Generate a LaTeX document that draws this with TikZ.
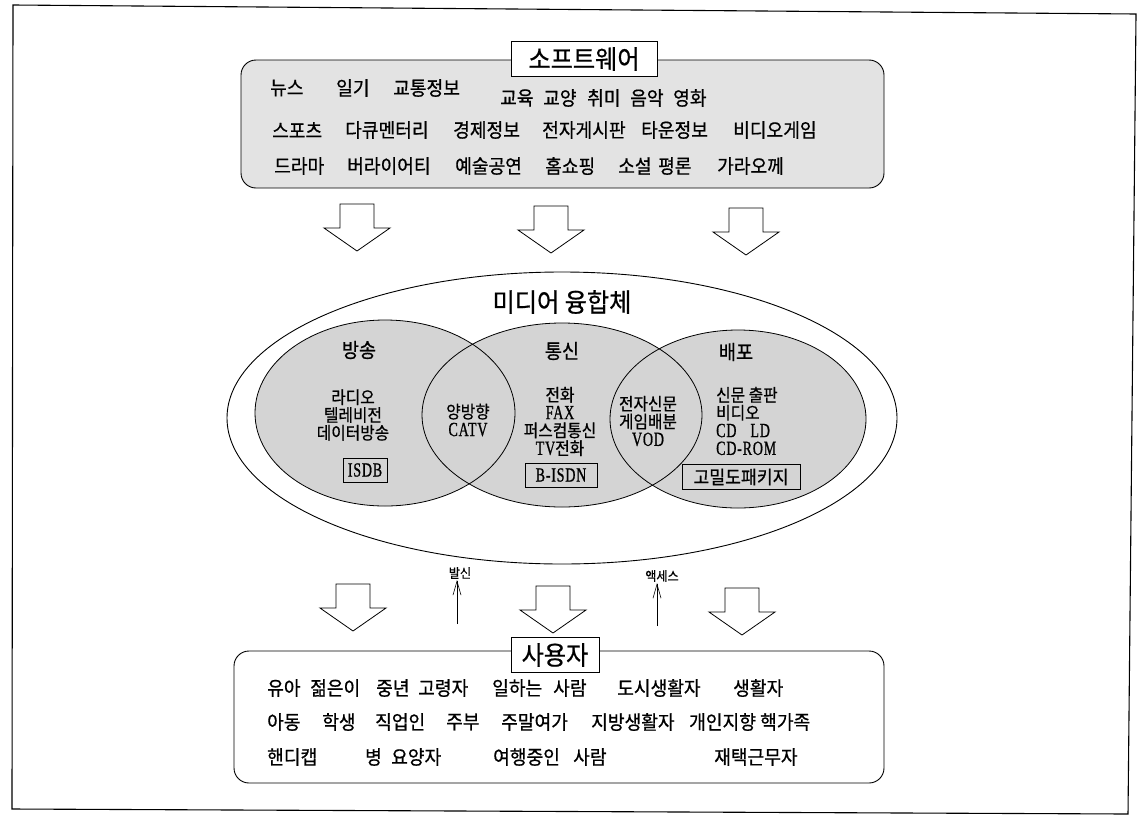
\documentclass[tikz,border=0pt]{standalone}
\usepackage{fontspec}
\setmainfont{Noto Sans CJK KR}
\newfontfamily\kr[FakeStretch=0.93,FakeBold=0.7]{Noto Sans CJK KR}
\newfontfamily\krn[FakeStretch=0.9,FakeBold=0.6]{Noto Sans CJK KR}
\newfontfamily\lat[FakeStretch=0.7,FakeBold=0.8,LetterSpace=4]{Liberation Serif}
\usetikzlibrary{shapes.geometric,arrows.meta}
\definecolor{cfill}{gray}{0.83}
\definecolor{bfill}{gray}{0.89}
\begin{document}
\begin{tikzpicture}[x=1pt,y=-1pt,
  frame/.style={line width=1.1pt},
  panel/.style={draw, line width=0.9pt, rounded corners=15pt, inner sep=0pt},
  titlebox/.style={draw, fill=white, line width=0.8pt, inner sep=0pt, minimum height=35pt, font=\kr\fontsize{26}{28}\selectfont},
  word/.style={anchor=west, inner sep=0pt, font=\kr\fontsize{19.5}{21}\selectfont},
  clabel/.style={inner sep=0pt, font=\kr\fontsize{20}{22}\selectfont},
  ctext/.style={inner sep=0pt, align=center, font=\krn\fontsize{17.5}{17.8}\selectfont},
  latbox/.style={draw, line width=0.7pt, inner sep=0pt, minimum height=24pt, font=\lat\fontsize{20}{20}\selectfont},
  kbox/.style={draw, line width=0.7pt, inner sep=0pt, minimum height=25pt, minimum width=118pt, font=\kr\fontsize{18.5}{20}\selectfont},
  small/.style={inner sep=1pt, font=\kr\fontsize{13}{15}\selectfont},
  uparr/.style={line width=0.6pt, -{Straight Barb[length=14pt,width=8pt]}},
  downarr/.pic={\draw[line width=0.8pt, fill=white] (-17,0) -- (17,0) -- (17,24) -- (33,24) -- (0,47) -- (-33,24) -- (-17,24) -- cycle;}
]
\useasboundingbox (0,0) rectangle (1142,822);
\fill[white] (0,0) rectangle (1142,822);
% outer frame
\draw[frame] (13,5) -- (1136,14) -- (1128,814) -- (12,809) -- cycle;

% ---------- software panel ----------
\node[panel, fill=bfill, minimum width=643pt, minimum height=128pt] (swbox) at (562.5,124) {};
\node[titlebox, minimum width=146pt] (swtitle) at (584,59) {소프트웨어};
\node[word] (s1) at (270,88) {뉴스};
\node[word] (s2) at (336,88) {일기};
\node[word] (s3) at (393,88) {교통정보};
\node[word] (s4) at (500,98) {교육};
\node[word] (s5) at (543,98) {교양};
\node[word] (s6) at (587,98) {취미};
\node[word] (s7) at (630,98) {음악};
\node[word] (s8) at (673,98) {영화};
\node[word] (s9) at (272,130) {스포츠};
\node[word] (s10) at (345,130) {다큐멘터리};
\node[word] (s11) at (453,130) {경제정보};
\node[word] (s12) at (542,130) {전자게시판};
\node[word] (s13) at (641,130) {타운정보};
\node[word] (s14) at (733,130) {비디오게임};
\node[word] (s15) at (274,166) {드라마};
\node[word] (s16) at (347,166) {버라이어티};
\node[word] (s17) at (455,166) {예술공연};
\node[word] (s18) at (545,166) {홈쇼핑};
\node[word] (s19) at (618,166) {소설};
\node[word] (s20) at (658,166) {평론};
\node[word] (s21) at (717,166) {가라오께};

% ---------- arrows software -> media ----------
\pic at (357,204) {downarr};
\pic at (551,206) {downarr};
\pic at (746,208) {downarr};

% ---------- media ellipse ----------
\node[ellipse, draw, fill=white, line width=0.9pt, minimum width=670pt, minimum height=292pt, inner sep=0pt] (media) at (562,418) {};
\node[inner sep=0pt, font=\kr\fontsize{26}{28}\selectfont] (mtitle) at (562,302) {미디어 융합체};
% circle fills
\node[ellipse, fill=cfill, minimum width=260pt, minimum height=186pt, inner sep=0pt] (cL) at (385,413) {};
\node[ellipse, fill=cfill, minimum width=280pt, minimum height=184pt, inner sep=0pt] (cM) at (562,415) {};
\node[ellipse, fill=cfill, minimum width=256pt, minimum height=178pt, inner sep=0pt] (cR) at (738,419) {};
% circle outlines
\node[ellipse, draw, line width=0.8pt, minimum width=260pt, minimum height=186pt, inner sep=0pt] (oL) at (cL) {};
\node[ellipse, draw, line width=0.8pt, minimum width=280pt, minimum height=184pt, inner sep=0pt] (oM) at (cM) {};
\node[ellipse, draw, line width=0.8pt, minimum width=256pt, minimum height=178pt, inner sep=0pt] (oR) at (cR) {};

% broadcasting
\node[clabel] (tbang) at (359,350) {방송};
\node[ctext] (bang1) at (353,415) {라디오\\텔레비전\\데이터방송};
\node[latbox, minimum width=44pt] (isdb) at (365,470) {ISDB};
% overlap L/M
\node[ctext] (yang) at (468,420) {양방향\\{\lat\fontsize{20}{17.8}\selectfont CATV}};
% communication
\node[clabel] (ttong) at (562,351) {통신};
\node[ctext] (tong1) at (560,421.5) {전화\\{\lat\fontsize{20}{17.8}\selectfont FAX}\\퍼스컴통신\\{\lat\fontsize{20}{17.8}\selectfont TV}전화};
\node[latbox, minimum width=72pt] (bisdn) at (561,475) {B-ISDN};
% overlap M/R
\node[ctext] (jeon) at (648,421) {전자신문\\게임배분\\{\lat\fontsize{20}{17.8}\selectfont VOD}};
% distribution
\node[clabel] (tbae) at (736,352) {배포};
\node[ctext, align=left, anchor=west] (bae1) at (716,421) {신문 출판\\비디오\\{\lat\fontsize{20}{17.8}\selectfont CD\hspace{14pt}LD}\\{\lat\fontsize{20}{17.8}\selectfont CD-ROM}};
\node[kbox] (gomil) at (741,477) {고밀도패키지};

% ---------- arrows media <-> users ----------
\pic at (353,584) {downarr};
\pic at (553,586) {downarr};
\pic at (742,588) {downarr};
\node[small] (bal) at (460,573) {발신};
\coordinate (bs) at (457,624);
\draw[uparr] (bs) -- (bs |- bal.south);
\node[small] (acc) at (662,576) {액세스};
\coordinate (as) at (657,626);
\draw[uparr] (as) -- (as |- acc.south);

% ---------- users panel ----------
\node[panel, fill=white, minimum width=650pt, minimum height=132pt] (ubox) at (559,717) {};
\node[titlebox, minimum width=88pt] (utitle) at (555,655) {사용자};
\node[word] (u1) at (267,688) {유아};
\node[word] (u2) at (310,688) {젊은이};
\node[word] (u3) at (376,688) {중년};
\node[word] (u4) at (418,688) {고령자};
\node[word] (u5) at (492,688) {일하는};
\node[word] (u6) at (553,688) {사람};
\node[word] (u7) at (617,688) {도시생활자};
\node[word] (u8) at (733,688) {생활자};
\node[word] (u9) at (267,722) {아동};
\node[word] (u10) at (322,722) {학생};
\node[word] (u11) at (375,722) {직업인};
\node[word] (u12) at (446,722) {주부};
\node[word] (u13) at (501,722) {주말여가};
\node[word] (u14) at (591,722) {지방생활자};
\node[word] (u15) at (689,722) {개인지향};
\node[word] (u16) at (760,722) {핵가족};
\node[word] (u17) at (267,757) {핸디캡};
\node[word] (u18) at (365,757) {병};
\node[word] (u19) at (391,757) {요양자};
\node[word] (u20) at (493,757) {여행중인};
\node[word] (u21) at (573,757) {사람};
\node[word] (u22) at (714,757) {재택근무자};
\end{tikzpicture}
\end{document}
